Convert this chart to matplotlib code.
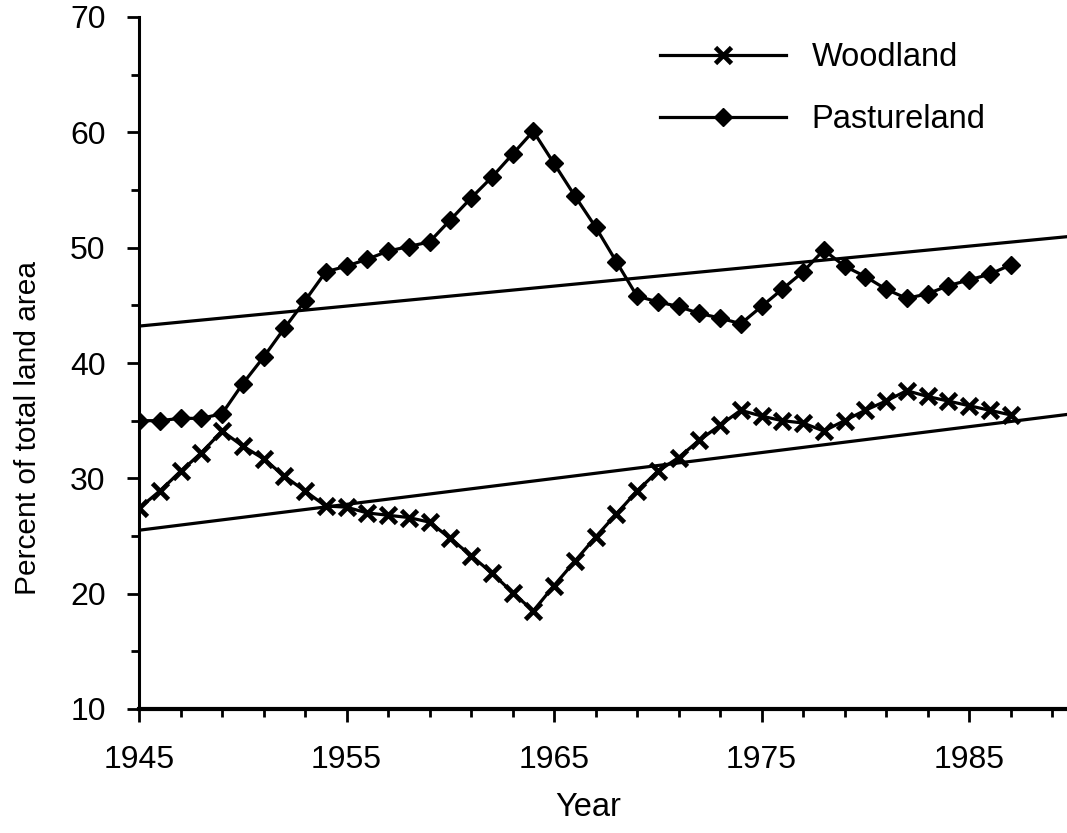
import matplotlib
matplotlib.use("Agg")
import matplotlib.pyplot as plt
import numpy as np

plt.rcParams['font.family'] = ['Liberation Sans', 'DejaVu Sans']

# yearly share of total land area, 1945-1987
years = list(range(1945, 1988))
woodland = [27.4, 28.9, 30.6, 32.2, 34.1, 32.8, 31.7, 30.2, 28.9, 27.6,
            27.5, 27.0, 26.8, 26.6, 26.2, 24.8, 23.3, 21.8, 20.1, 18.5,
            20.7, 22.8, 24.9, 26.9, 28.9, 30.6, 31.8, 33.3, 34.6, 35.9,
            35.4, 35.0, 34.8, 34.1, 35.0, 35.9, 36.7, 37.6, 37.1, 36.7,
            36.3, 35.9, 35.5]
pasture = [35.0, 35.0, 35.2, 35.2, 35.6, 38.2, 40.5, 43.0, 45.4, 47.9,
           48.4, 49.0, 49.7, 50.1, 50.5, 52.4, 54.3, 56.1, 58.1, 60.1,
           57.3, 54.5, 51.8, 48.8, 45.8, 45.3, 44.9, 44.3, 43.9, 43.4,
           44.9, 46.4, 47.9, 49.8, 48.4, 47.5, 46.4, 45.6, 46.0, 46.7,
           47.2, 47.7, 48.5]

# straight trend lines, values at 1945 and 1990
trend_years = [1945, 1990]
woodland_trend = [25.5, 35.6]
pasture_trend = [43.2, 51.0]

x_major = [1945, 1955, 1965, 1975, 1985]

fig = plt.figure(figsize=(10.67, 8.33), dpi=100)
ax = fig.add_axes([139 / 1067, 1 - 709 / 833, 1 - 139 / 1067, 692 / 833])

lw = 2.3
wood, = ax.plot(years, woodland, color='black', lw=lw, marker='x',
                ms=11.5, mew=3.4, label='Woodland')
past, = ax.plot(years, pasture, color='black', lw=lw, marker='D',
                ms=9, label='Pastureland')
ax.plot(trend_years, woodland_trend, color='black', lw=lw)
ax.plot(trend_years, pasture_trend, color='black', lw=lw)

ax.set_xlim(1945, 1945 + 928 / 20.75)
ax.set_ylim(10, 70)
ax.set_xticks(x_major)
ax.set_xticks(np.arange(1945, 1990, 2), minor=True)
ax.set_yticks(np.arange(10, 71, 10))
ax.set_yticks(np.arange(15, 70, 10), minor=True)

for side in ['top', 'right']:
    ax.spines[side].set_visible(False)
ax.spines['left'].set_linewidth(2.2)
ax.spines['bottom'].set_linewidth(3)

ax.tick_params(which='major', length=9, width=2, labelsize=23)
ax.tick_params(which='minor', length=5.5, width=2)
ax.tick_params(axis='x', pad=17)
ax.tick_params(axis='y', pad=15)

fig.text(588 / 1067, 1 - 808 / 833, 'Year', fontsize=23.5,
         ha='center', va='center')
fig.text(28 / 1067, 1 - 428 / 833, 'Percent of total land area',
         fontsize=21.5, rotation=90, ha='center', va='center')

ax.legend(handles=[wood, past], loc='upper left',
          bbox_to_anchor=(660 / 1067, 1 - 42 / 833),
          bbox_transform=fig.transFigure, frameon=False, fontsize=23.5,
          borderpad=0, borderaxespad=0, handlelength=3.85,
          handletextpad=0.8, labelspacing=0.95, numpoints=1)

fig.savefig('out.png', dpi=100)
